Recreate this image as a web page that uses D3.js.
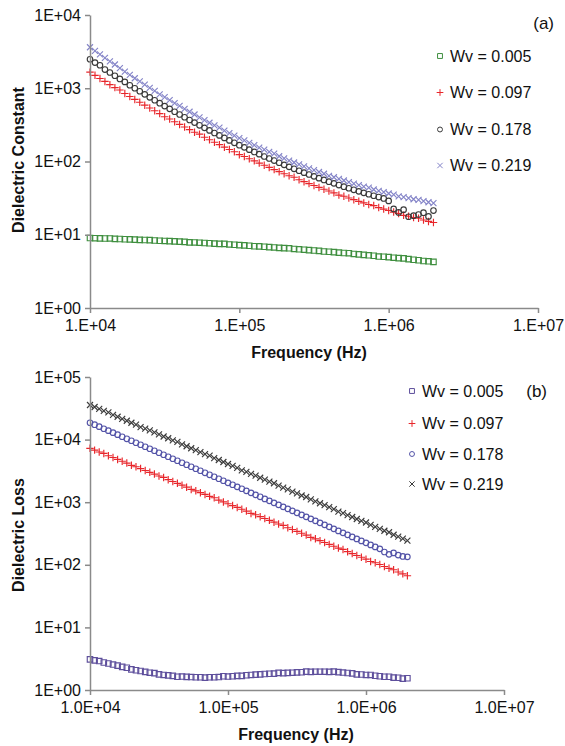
<!DOCTYPE html>
<html>
<head>
<meta charset="utf-8">
<script src="https://cdn.jsdelivr.net/npm/d3@7"></script>
<style>
  html, body { margin: 0; padding: 0; background: #fff; }
  svg { display: block; font-family: "Liberation Sans", Arial, Helvetica, sans-serif; }
</style>
</head>
<body>
<svg id="chart" width="565" height="746"></svg>
<script>
// Frequency sweep (Hz), shared by both panels
const frequency = [
  10000, 10800, 11660, 12590, 13590, 14680, 15850, 17110, 18480, 19950,
  21540, 23260, 25120, 27120, 29290, 31620, 34150, 36870, 39810, 42990,
  46420, 50120, 54120, 58430, 63100, 68130, 73560, 79430, 85770, 92610,
  100000, 108000, 116600, 125900, 135900, 146800, 158500, 171100, 184800, 199500,
  215400, 232600, 251200, 271200, 292900, 316200, 341500, 368700, 398100, 429900,
  464200, 501200, 541200, 584300, 631000, 681300, 735600, 794300, 857700, 926100,
  1000000, 1080000, 1166000, 1259000, 1359000, 1468000, 1585000, 1711000, 1848000, 1995000
];

const seriesNames = ["Wv = 0.005", "Wv = 0.097", "Wv = 0.178", "Wv = 0.219"];

// (a) dielectric constant
const constant005 = [
  9.02, 8.97, 8.93, 8.88, 8.90, 8.79, 8.74, 8.69, 8.63, 8.58,
  8.52, 8.47, 8.46, 8.35, 8.29, 8.23, 8.17, 8.11, 8.05, 7.98,
  7.86, 7.85, 7.79, 7.72, 7.65, 7.58, 7.51, 7.50, 7.37, 7.30,
  7.23, 7.15, 7.08, 6.96, 6.93, 6.86, 6.78, 6.71, 6.63, 6.56,
  6.53, 6.40, 6.33, 6.25, 6.17, 6.10, 6.02, 5.90, 5.86, 5.79,
  5.71, 5.63, 5.60, 5.47, 5.40, 5.32, 5.24, 5.17, 5.04, 5.01,
  4.94, 4.86, 4.79, 4.76, 4.64, 4.56, 4.49, 4.38, 4.34, 4.27
];
const constant097 = [
  1660, 1500, 1360, 1240, 1120, 1020, 945, 847, 772, 704,
  643, 588, 538, 493, 451, 408, 380, 349, 321, 296,
  272, 251, 236, 214, 198, 183, 170, 157, 146, 136,
  124, 117, 109, 102, 95.1, 88.8, 83.0, 77.6, 72.7, 68.1,
  63.9, 61.0, 56.3, 53.0, 49.9, 47.0, 44.3, 41.8, 39.5, 37.3,
  34.8, 33.5, 31.7, 30.1, 28.6, 27.2, 25.9, 25.0, 23.5, 22.4,
  21.4, 20.4, 19.5, 18.4, 17.9, 17.2, 16.8, 15.9, 15.2, 14.7
];
const constant178 = [
  2490, 2240, 2060, 1800, 1640, 1480, 1340, 1220, 1100, 1000,
  909, 826, 752, 686, 625, 571, 523, 478, 438, 402,
  369, 340, 312, 288, 266, 245, 227, 210, 194, 180,
  167, 156, 145, 135, 126, 117, 110, 103, 96.1, 90.1,
  84.6, 79.5, 74.8, 70.4, 66.4, 62.7, 59.2, 56.0, 53.0, 50.3,
  47.7, 45.3, 43.1, 41.1, 39.1, 37.3, 35.7, 34.1, 32.7, 31.3,
  29.0, 22.5, 20.2, 22.0, 17.6, 18.2, 18.9, 20.0, 17.8, 21.4
];
const constant219 = [
  3630, 3240, 2900, 2600, 2330, 2110, 1880, 1690, 1520, 1370,
  1240, 1120, 1010, 919, 826, 758, 689, 628, 573, 523,
  478, 438, 401, 368, 338, 311, 290, 264, 244, 226,
  209, 194, 180, 167, 155, 145, 135, 128, 118, 110,
  103, 97.0, 91.1, 85.7, 80.7, 76.1, 71.9, 68.0, 63.5, 61.0,
  57.8, 55.0, 52.3, 49.8, 47.5, 45.3, 43.9, 41.5, 39.7, 38.1,
  36.6, 35.2, 33.4, 32.7, 31.6, 30.5, 29.9, 28.7, 27.8, 27.0
];

// (b) dielectric loss
const loss005 = [
  3.09, 2.97, 2.90, 2.75, 2.65, 2.55, 2.45, 2.34, 2.27, 2.14,
  2.07, 2.01, 1.95, 1.89, 1.86, 1.78, 1.74, 1.71, 1.68, 1.63,
  1.64, 1.62, 1.61, 1.60, 1.60, 1.58, 1.60, 1.60, 1.61, 1.66,
  1.64, 1.66, 1.68, 1.68, 1.72, 1.74, 1.76, 1.78, 1.80, 1.82,
  1.83, 1.88, 1.86, 1.88, 1.89, 1.91, 1.92, 1.97, 1.95, 1.96,
  1.96, 1.96, 1.95, 1.97, 1.93, 1.90, 1.87, 1.84, 1.78, 1.77,
  1.74, 1.74, 1.69, 1.66, 1.63, 1.63, 1.58, 1.57, 1.52, 1.54
];
const loss097 = [
  7260, 6790, 6340, 6010, 5530, 5170, 4830, 4510, 4220, 3880,
  3680, 3440, 3210, 3000, 2810, 2620, 2490, 2290, 2140, 2000,
  1870, 1740, 1600, 1520, 1420, 1330, 1240, 1180, 1080, 1010,
  946, 884, 826, 772, 721, 662, 630, 588, 550, 513,
  480, 448, 426, 391, 366, 342, 319, 298, 274, 260,
  243, 227, 212, 198, 185, 176, 162, 151, 141, 132,
  123, 113, 108, 101, 94.0, 87.8, 83.5, 76.7, 71.6, 66.9
];
const loss178 = [
  18600, 17300, 16100, 14900, 13900, 12900, 12000, 11100, 10300, 9590,
  8910, 8280, 7690, 7140, 6640, 6170, 5730, 5320, 4940, 4590,
  4270, 3960, 3680, 3420, 3180, 2950, 2740, 2550, 2370, 2200,
  2040, 1900, 1760, 1640, 1520, 1410, 1310, 1220, 1130, 1050,
  977, 908, 843, 783, 728, 676, 628, 583, 542, 504,
  468, 435, 404, 375, 348, 324, 301, 279, 259, 241,
  224, 208, 193, 180, 160, 147, 155, 143, 136, 134
];
const loss219 = [
  35700, 33200, 30900, 28800, 27300, 24900, 23200, 21500, 20000, 18600,
  17300, 15800, 15000, 14000, 13000, 12100, 11200, 10500, 9720, 9200,
  8410, 7830, 7280, 6770, 6300, 5860, 5550, 5070, 4720, 4390,
  4080, 3800, 3530, 3230, 3060, 2840, 2650, 2460, 2290, 2130,
  2010, 1840, 1710, 1600, 1480, 1380, 1280, 1210, 1110, 1030,
  962, 895, 832, 774, 708, 670, 623, 580, 539, 502,
  474, 434, 404, 376, 350, 331, 302, 281, 262, 243
];

// Axis tick values
const freqTicks = [1e4, 1e5, 1e6, 1e7];
const constantTicks = [1, 10, 100, 1000, 10000];
const lossTicks = [1, 10, 100, 1000, 10000, 100000];

// Hollow and stroked marker shapes
const markSquare = { draw(ctx, size) { const s = Math.sqrt(size) / 2; ctx.rect(-s, -s, 2 * s, 2 * s); } };
const markCircle = { draw(ctx, size) { const r = Math.sqrt(size / Math.PI); ctx.moveTo(r, 0); ctx.arc(0, 0, r, 0, 2 * Math.PI); } };
const markPlus = { draw(ctx, size) { const r = Math.sqrt(size) / 2; ctx.moveTo(-r, 0); ctx.lineTo(r, 0); ctx.moveTo(0, -r); ctx.lineTo(0, r); } };
const markTimes = { draw(ctx, size) { const r = Math.sqrt(size) / 2; ctx.moveTo(-r, -r); ctx.lineTo(r, r); ctx.moveTo(-r, r); ctx.lineTo(r, -r); } };

const svg = d3.select("#chart");
const axisColor = "#8a8a8a";
const sup = n => String(n).padStart(2, "0");

function drawPanel(p) {
  const x = d3.scaleLog().domain([1e4, 1e7]).range(p.xRange);
  const y = d3.scaleLog().domain(p.yDomain).range(p.yRange);
  const g = svg.append("g");

  // data markers
  p.series.forEach(s => {
    const sym = d3.symbol().type(s.shape).size(s.size);
    g.append("g")
      .selectAll("path")
      .data(s.values.map((v, i) => [frequency[i], v]))
      .join("path")
      .attr("transform", d => `translate(${x(d[0])},${y(d[1])})`)
      .attr("d", sym())
      .attr("fill", "none")
      .attr("stroke", s.color)
      .attr("stroke-width", 1.15);
  });

  // axes
  const xAxis = d3.axisBottom(x).tickValues(freqTicks).tickSizeInner(5).tickSizeOuter(0).tickPadding(7)
    .tickFormat(v => p.xMantissa + "E+" + sup(Math.round(Math.log10(v))));
  const yAxis = d3.axisLeft(y).tickValues(p.yTicks).tickSizeInner(5).tickSizeOuter(0).tickPadding(4)
    .tickFormat(v => "1E+" + sup(Math.round(Math.log10(v))));

  const gx = g.append("g").attr("transform", `translate(0,${p.yRange[0]})`).call(xAxis);
  const gy = g.append("g").attr("transform", `translate(${p.xRange[0]},0)`).call(yAxis);
  [gx, gy].forEach(a => {
    a.select(".domain").attr("stroke", axisColor).attr("stroke-width", 1.5);
    a.selectAll(".tick line").attr("stroke", axisColor).attr("stroke-width", 1.5);
    a.selectAll(".tick text").attr("fill", "#111").style("font-size", "16px")
      .style("font-family", '"Liberation Sans", Arial, sans-serif');
  });

  // axis titles
  g.append("text")
    .attr("x", p.xTitlePos[0]).attr("y", p.xTitlePos[1])
    .attr("text-anchor", "middle").attr("font-weight", "bold").attr("font-size", 16).attr("fill", "#111")
    .text("Frequency (Hz)");
  g.append("text")
    .attr("transform", `translate(${p.yTitlePos[0]},${p.yTitlePos[1]}) rotate(-90)`)
    .attr("text-anchor", "middle").attr("font-weight", "bold").attr("font-size", 16).attr("fill", "#111")
    .text(p.yTitle);

  // panel tag
  g.append("text")
    .attr("x", p.tagPos[0]).attr("y", p.tagPos[1]).attr("dy", "0.35em")
    .attr("text-anchor", "end").attr("font-size", 17).attr("fill", "#111")
    .text(p.tag);

  // legend
  const lg = g.append("g");
  p.series.forEach((s, i) => {
    const ly = p.legend.y[i];
    lg.append("path")
      .attr("transform", `translate(${p.legend.x},${ly})`)
      .attr("d", d3.symbol().type(s.shape).size(s.size * 0.8)())
      .attr("fill", "none").attr("stroke", s.color).attr("stroke-width", 1);
    lg.append("text")
      .attr("x", p.legend.x + 10).attr("y", ly).attr("dy", "0.36em")
      .attr("font-size", 16).attr("fill", "#111")
      .text(seriesNames[i]);
  });
}

drawPanel({
  xRange: [90, 538], yRange: [308, 15], yDomain: [1, 1e4], yTicks: constantTicks,
  xMantissa: "1.", yTitle: "Dielectric Constant",
  xTitlePos: [309, 358], yTitlePos: [24, 160],
  tag: "(a)", tagPos: [554, 23],
  legend: { x: 440, y: [56, 92.5, 129.5, 165.5] },
  series: [
    { values: constant005, shape: markSquare, size: 30, color: "#3f8f3f" },
    { values: constant097, shape: markPlus, size: 56, color: "#e8262b" },
    { values: constant178, shape: markCircle, size: 24, color: "#3a3a3a" },
    { values: constant219, shape: markTimes, size: 36, color: "#8484c8" }
  ]
});

drawPanel({
  xRange: [90, 504], yRange: [690, 377], yDomain: [1, 1e5], yTicks: lossTicks,
  xMantissa: "1.0", yTitle: "Dielectric Loss",
  xTitlePos: [296, 740], yTitlePos: [24, 535],
  tag: "(b)", tagPos: [547, 391],
  legend: { x: 412, y: [391, 423.5, 454, 484] },
  series: [
    { values: loss005, shape: markSquare, size: 30, color: "#5e4f9c" },
    { values: loss097, shape: markPlus, size: 56, color: "#e8262b" },
    { values: loss178, shape: markCircle, size: 24, color: "#5454a8" },
    { values: loss219, shape: markTimes, size: 36, color: "#3c3c3c" }
  ]
});
</script>
</body>
</html>
